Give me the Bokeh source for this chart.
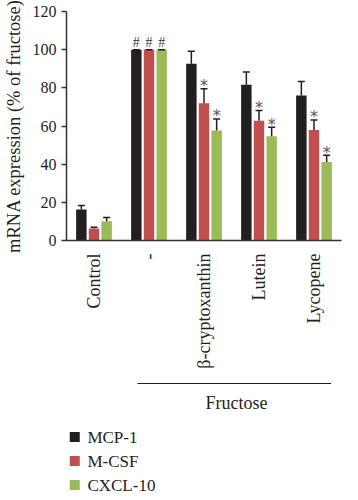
import math
from bokeh.plotting import figure
from bokeh.layouts import column
from bokeh.models import (ColumnDataSource, FactorRange, Range1d, FixedTicker, Whisker,
                          TeeHead)
from bokeh.transform import dodge
from bokeh.embed import file_html
from bokeh.resources import INLINE
from bokeh.core.properties import value

# ---------------- data ----------------
groups = ["Control", "-", "β-cryptoxanthin", "Lutein", "Lycopene"]
series = ["MCP-1", "M-CSF", "CXCL-10"]
mcp1 = [16.2, 100, 92.6, 81.6, 76.0]
mcp1_err = [2.2, 0, 6.6, 6.7, 7.3]
mcsf = [6.3, 100, 71.9, 62.7, 57.9]
mcsf_err = [0.6, 0, 7.6, 5.4, 5.3]
cxcl10 = [10.1, 100, 57.7, 54.6, 41.1]
cxcl10_err = [1.9, 0, 6.0, 4.8, 3.6]
mcp1_marks = ["", "#", "", "", ""]
mcsf_marks = ["", "#", "*", "*", "*"]
cxcl10_marks = ["", "#", "*", "*", "*"]
y_ticks = [0, 20, 40, 60, 80, 100, 120]
bracket_label = "Fructose"
colors = ["#231f20", "#c0504d", "#9bbb59"]

FONT = "Liberation Serif"
TXT = "#231f20"

p = figure(width=342, height=378, x_range=FactorRange(factors=groups),
           y_range=Range1d(0, 120), output_backend="svg", toolbar_location=None,
           min_border_left=61, min_border_right=1, min_border_top=11,
           min_border_bottom=138)
p.outline_line_color = None
p.xgrid.grid_line_color = None
p.ygrid.grid_line_color = None

offsets = [-0.23, 0.0, 0.23]
vals = [mcp1, mcsf, cxcl10]
errs = [mcp1_err, mcsf_err, cxcl10_err]
marks = [mcp1_marks, mcsf_marks, cxcl10_marks]

for name, v, e, m, off, col in zip(series, vals, errs, marks, offsets, colors):
    top = [a + b for a, b in zip(v, e)]
    hash_m = [s if s == "#" else "" for s in m]
    star_m = [s if s == "*" else "" for s in m]
    src = ColumnDataSource(dict(group=groups, val=v, top=top, hm=hash_m, sm=star_m))
    p.vbar(x=dodge("group", off, range=p.x_range), top="val", width=0.19,
           source=src, fill_color=col, line_color=None)
    w = Whisker(source=src, base=dodge("group", off, range=p.x_range),
                lower="val", upper="top", line_color="#231f20", line_width=1.5,
                upper_head=TeeHead(size=7, line_color="#231f20", line_width=1.5),
                lower_head=None, level="annotation")
    p.add_layout(w)
    p.text(x=dodge("group", off, range=p.x_range), y="top", text="hm", source=src,
           text_font=value(FONT), text_font_size="14px", text_color="#3a3a3a",
           text_align="center", text_baseline="alphabetic", y_offset=-7)
    p.text(x=dodge("group", off, range=p.x_range), y="top", text="sm", source=src,
           text_font=value("DejaVu Sans"), text_font_size="16px", text_color="#555555",
           text_align="center", text_baseline="alphabetic", y_offset=-3)

# axes
p.yaxis.ticker = FixedTicker(ticks=y_ticks)
p.yaxis.axis_label = "mRNA expression (% of fructose)"
for ax in [p.xaxis[0], p.yaxis[0]]:
    ax.axis_line_color = "#333333"
    ax.axis_line_width = 1.5
    ax.major_tick_line_color = "#333333"
    ax.major_tick_line_width = 1.5
    ax.minor_tick_line_color = None
    ax.major_label_text_font = FONT
    ax.major_label_text_color = TXT
p.yaxis.major_tick_out = 5
p.yaxis.major_tick_in = 0
p.yaxis.major_label_text_font_size = "16px"
p.yaxis.major_label_standoff = 5
p.yaxis.axis_label_text_font = FONT
p.yaxis.axis_label_text_font_style = "normal"
p.yaxis.axis_label_text_font_size = "18.5px"
p.yaxis.axis_label_text_color = TXT
p.yaxis.axis_label_standoff = 6

p.xaxis.major_tick_out = 0
p.xaxis.major_tick_in = 0
p.xaxis.major_label_orientation = math.pi / 2
p.xaxis.major_label_text_font_size = "18px"
p.xaxis.major_label_standoff = 13

# ---------- lower panel: bracket + legend (shares the category axis) ----------
H2 = 116
p2 = figure(width=342, height=H2, x_range=p.x_range, y_range=Range1d(H2, 0),
            output_backend="svg", toolbar_location=None, min_border_left=61,
            min_border_right=1, min_border_top=0, min_border_bottom=0,
            x_axis_location=None, y_axis_location=None)
p2.outline_line_color = None
p2.xgrid.grid_line_color = None
p2.ygrid.grid_line_color = None

p2.segment(x0=[1.29], y0=[5], x1=[4.81], y1=[5], line_color="#231f20", line_width=1.2)
p2.text(x=[3.09], y=[24], text=[bracket_label], text_font=value(FONT),
        text_font_size="18px", text_color=TXT, text_align="center",
        text_baseline="middle")

leg_y = [58.5 + 24 * i for i in range(len(series))]
p2.scatter(x=[0.15] * len(series), y=leg_y, marker="square", size=10,
           fill_color=colors, line_color=None)
p2.text(x=[0.38] * len(series), y=leg_y, text=series, text_font=value(FONT),
        text_font_size="17px", text_color=TXT, text_align="left",
        text_baseline="middle")

layout = column(p, p2, spacing=0)
open("out.html", "w").write(file_html(layout, INLINE))
